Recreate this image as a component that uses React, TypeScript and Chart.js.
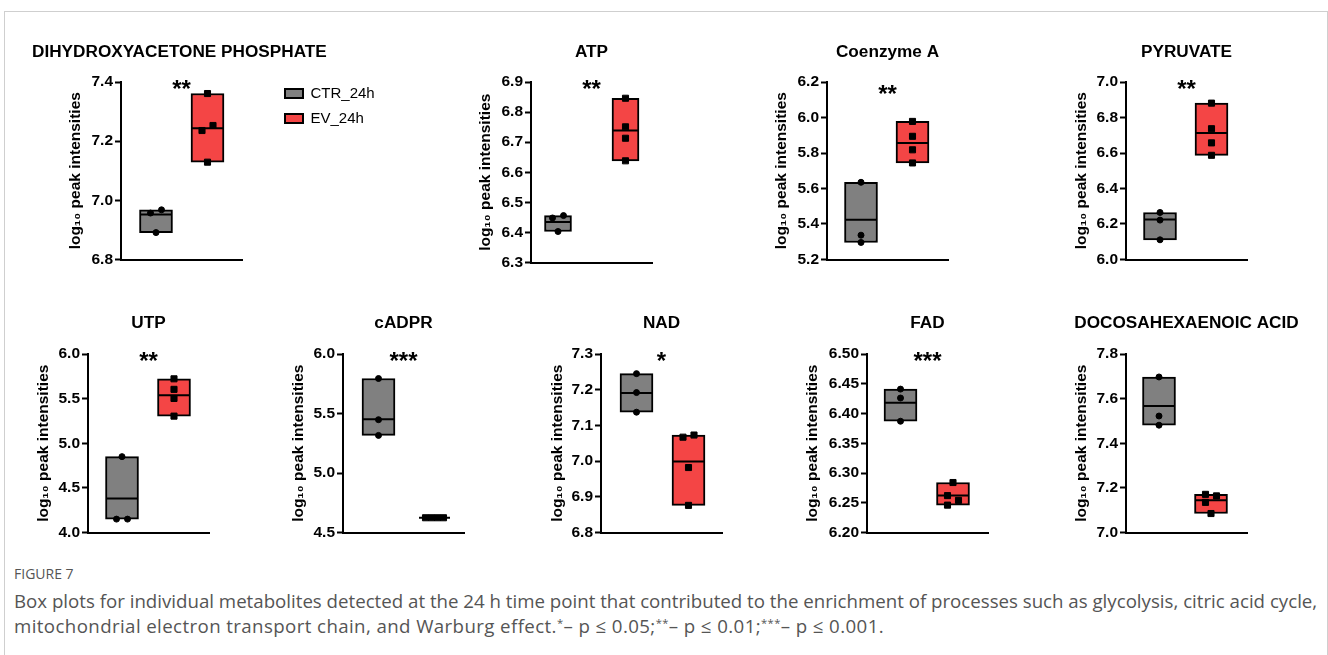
import React, { useEffect, useLayoutEffect, useRef, useState } from 'react';
import { Chart, registerables } from 'chart.js';

Chart.register(...registerables);

// ---------------- data ----------------
const METABOLITES = [
  'DIHYDROXYACETONE PHOSPHATE',
  'ATP',
  'Coenzyme A',
  'PYRUVATE',
  'UTP',
  'cADPR',
  'NAD',
  'FAD',
  'DOCOSAHEXAENOIC ACID',
];
const SIGNIFICANCE = ['**', '**', '**', '**', '**', '***', '*', '***', ''];
const GROUPS = ['CTR_24h', 'EV_24h'];

const CTR_POINTS = [
  [6.968, 6.957, 6.891],
  [6.456, 6.448, 6.403],
  [5.635, 5.337, 5.296],
  [6.265, 6.222, 6.111],
  [4.85, 4.15, 4.15],
  [5.794, 5.448, 5.316],
  [7.245, 7.192, 7.137],
  [6.441, 6.426, 6.387],
  [7.697, 7.522, 7.481],
];
const EV_POINTS = [
  [7.361, 7.253, 7.236, 7.129],
  [6.846, 6.751, 6.713, 6.638],
  [5.978, 5.894, 5.818, 5.744],
  [6.881, 6.737, 6.657, 6.587],
  [5.722, 5.604, 5.502, 5.304],
  [4.624, 4.624, 4.624, 4.624],
  [7.073, 7.067, 6.982, 6.876],
  [6.284, 6.262, 6.254, 6.246],
  [7.171, 7.164, 7.135, 7.085],
];
const CTR_CENTER = [6.952, 6.435, 5.424, 6.226, 4.381, 5.451, 7.191, 6.418, 7.567];
const EV_CENTER = [7.244, 6.739, 5.857, 6.713, 5.538, 4.624, 6.999, 6.262, 7.144];

const Y_MIN = [6.8, 6.3, 5.2, 6.0, 4.0, 4.5, 6.8, 6.2, 7.0];
const Y_MAX = [7.4, 6.9, 6.2, 7.0, 6.0, 6.0, 7.3, 6.5, 7.8];
const Y_STEP = [0.2, 0.1, 0.2, 0.2, 0.5, 0.5, 0.1, 0.05, 0.2];
const Y_DECIMALS = [1, 1, 1, 1, 1, 1, 1, 2, 1];
const Y_TITLE = 'log\u2081\u2080 peak intensities';

const CAPTION_LABEL = 'FIGURE 7';
const CAPTION_LINE_1 =
  'Box plots for individual metabolites detected at the 24 h time point that contributed to the enrichment of processes such as glycolysis, citric acid cycle,';
const CAPTION_LINE_2A = 'mitochondrial electron transport chain, and Warburg effect.';
const CAPTION_P = ['\u2013 p \u2264 0.05;', '\u2013 p \u2264 0.01;', '\u2013 p \u2264 0.001.'];

// ---------------- layout / style ----------------
const FONT = "'Liberation Sans', Arial, Helvetica, sans-serif";
const COLORS = ['#808080', '#F44545'];
const PLOT_W = 121;
const ROWS = [
  { top: 82, bottom: 263, title: 52 },
  { top: 354, bottom: 536, title: 323 },
];
type PanelLayout = {
  row: number;
  axisX: number;
  d: number;
  centers: [number, number];
  barT?: number;
  starsDy?: number;
  legend?: boolean;
  titleStart?: number;
};
const PANELS: PanelLayout[] = [
  { row: 0, axisX: 121, d: 45, centers: [35, 86.5], legend: true, titleStart: 32 },
  { row: 0, axisX: 531, d: 45, centers: [27, 94.5], barT: 27 },
  { row: 0, axisX: 827, d: 45, centers: [34, 85.5], starsDy: 5 },
  { row: 0, axisX: 1126, d: 44, centers: [34, 85.5] },
  { row: 1, axisX: 88, d: 44, centers: [34, 86] },
  { row: 1, axisX: 343, d: 44, centers: [35.5, 91.5] },
  { row: 1, axisX: 601, d: 43.5, centers: [35.5, 87.5] },
  { row: 1, axisX: 867, d: 54, centers: [33.5, 86] },
  { row: 1, axisX: 1126, d: 44, centers: [33, 85] },
];

// spread overlapping points horizontally (pixel offsets), like a small beeswarm
function swarmOffsets(values: number[], lo: number, hi: number, plotH: number): number[] {
  const pxPer = plotH / (hi - lo);
  const order = values.map((_, k) => k).sort((a, b) => values[a] - values[b]);
  const out = new Array(values.length).fill(0);
  let cluster: number[] = [];
  const flush = () => {
    const n = cluster.length;
    if (n > 1) {
      const span = (values[cluster[n - 1]] - values[cluster[0]]) * pxPer;
      cluster.forEach((k, j) => {
        out[k] = n > 2 && span < 7 ? (j - (n - 1) / 2) * 6 : j % 2 === 0 ? -5.5 : 5.5;
      });
    }
    cluster = [];
  };
  order.forEach((k, j) => {
    if (j > 0 && (values[k] - values[order[j - 1]]) * pxPer >= 7) flush();
    cluster.push(k);
  });
  flush();
  return out;
}

function Panel({ index }: { index: number }) {
  const ref = useRef<HTMLCanvasElement | null>(null);
  const p = PANELS[index];
  const row = ROWS[p.row];
  const W = p.legend ? p.axisX - (p.titleStart as number) : 70;
  const rightW = p.legend ? 33 : 70;
  const legendW = p.legend ? 104 : 0;
  const canvasLeft = p.axisX - W;
  const canvasTop = Math.round(row.title - 10.2);
  const width = W + PLOT_W + rightW + legendW;
  const height = row.bottom + 14 - canvasTop;

  useEffect(() => {
    const titleSize = 17.2;
    const titleLH = titleSize * 1.2;
    const subSize = 24;
    const subLH = subSize * 1.2;
    const subTop = canvasTop + titleLH;
    const starsMid = row.top + 8 + (p.starsDy || 0);
    const subPadTop = starsMid - subLH / 2 - subTop;
    const subPadBottom = row.top - subTop - subPadTop - subLH;
    const yTitlePad = p.axisX - p.d - canvasLeft - 9.3;
    const [c0, c1] = p.centers;
    const xMin = 1 - c0 / (c1 - c0);
    const xMax = xMin + PLOT_W / (c1 - c0);
    const unitPerPx = (xMax - xMin) / PLOT_W;
    const barT = p.barT || 33;
    const plotH = row.bottom - row.top;

    const groupPts = [CTR_POINTS[index], EV_POINTS[index]];
    const centers = [CTR_CENTER[index], EV_CENTER[index]];

    const bars = groupPts.map((pts, g) => ({
      type: 'bar' as const,
      label: GROUPS[g],
      data: [{ x: g + 1, y: [Math.min(...pts), Math.max(...pts)] }],
      backgroundColor: COLORS[g],
      borderColor: '#000',
      borderWidth: 2,
      borderSkipped: false,
      barThickness: barT,
      grouped: false,
      order: 3,
    }));
    const points = groupPts.map((pts, g) => {
      const off = swarmOffsets(pts, Y_MIN[index], Y_MAX[index], plotH);
      return {
        type: 'scatter' as const,
        label: GROUPS[g] + ' samples',
        data: pts.map((v, k) => ({ x: g + 1 + off[k] * unitPerPx, y: v })),
        pointStyle: g === 0 ? 'circle' : 'rect',
        pointRadius: g === 0 ? 3 : 4.3,
        pointBackgroundColor: '#000',
        pointBorderColor: '#000',
        pointBorderWidth: 1,
        order: 1,
      };
    });
    const mids = centers.map((c, g) => ({
      type: 'scatter' as const,
      label: GROUPS[g] + ' centre',
      data: [{ x: g + 1, y: c }],
      pointStyle: 'line',
      pointRadius: barT / 2 - 1,
      pointBorderColor: '#000',
      pointBackgroundColor: '#000',
      pointBorderWidth: 2,
      order: 2,
    }));

    const chart = new Chart(ref.current as HTMLCanvasElement, {
      type: 'bar',
      data: { datasets: [...bars, ...points, ...mids] as any },
      options: {
        responsive: false,
        animation: false,
        devicePixelRatio: 1,
        events: [],
        layout: { padding: 0 },
        scales: {
          x: {
            type: 'linear',
            min: xMin,
            max: xMax,
            offset: false,
            ticks: { display: false },
            grid: { display: false },
            border: { display: true, color: '#000', width: 2 },
            afterFit: (s: any) => {
              s.height = 14;
            },
          },
          y: {
            type: 'linear',
            position: 'left',
            min: Y_MIN[index],
            max: Y_MAX[index],
            ticks: {
              stepSize: Y_STEP[index],
              autoSkip: false,
              color: '#000',
              padding: 2,
              font: { family: FONT, size: 15.5, weight: 'bold' },
              callback: (v: any) => Number(v).toFixed(Y_DECIMALS[index]),
            },
            grid: {
              display: true,
              drawOnChartArea: false,
              drawTicks: true,
              tickLength: 6,
              tickWidth: 2,
              tickColor: '#000',
            },
            border: { display: true, color: '#000', width: 2 },
            title: {
              display: true,
              text: Y_TITLE,
              color: '#000',
              font: { family: FONT, size: 15.5, weight: 'bold' },
              padding: { top: yTitlePad, bottom: 0 },
            },
            afterFit: (s: any) => {
              s.width = W;
            },
          },
          yR: {
            type: 'linear',
            position: 'right',
            display: true,
            ticks: { display: false },
            grid: { display: false },
            border: { display: false },
            afterFit: (s: any) => {
              s.width = rightW;
            },
          },
        } as any,
        plugins: {
          legend: p.legend
            ? {
                display: true,
                position: 'right',
                align: 'start',
                fullSize: false,
                maxWidth: legendW,
                title: { display: true, text: ' ', font: { size: 1 }, padding: { top: 0, bottom: -7.2 } },
                labels: {
                  boxWidth: 18,
                  boxHeight: 9,
                  padding: 10,
                  color: '#000',
                  font: { family: FONT, size: 15 },
                  filter: (item: any) => item.datasetIndex < 2,
                },
              }
            : { display: false },
          title: {
            display: true,
            text: METABOLITES[index],
            align: p.legend ? 'start' : 'center',
            fullSize: true,
            color: '#000',
            font: { family: FONT, size: titleSize, weight: 'bold', lineHeight: 1.2 },
            padding: { top: 0, bottom: 0 },
          },
          subtitle: {
            display: true,
            text: SIGNIFICANCE[index],
            fullSize: false,
            color: '#000',
            font: { family: FONT, size: subSize, weight: 'bold', lineHeight: 1.2 },
            padding: { top: subPadTop, bottom: subPadBottom },
          },
          tooltip: { enabled: false },
        } as any,
      },
    });
    return () => chart.destroy();
  }, [index]);

  return (
    <canvas
      ref={ref}
      width={width}
      height={height}
      style={{ position: 'absolute', left: canvasLeft, top: canvasTop, width, height }}
    />
  );
}

const CAPTION_FONT = "'Open Sans', 'Noto Sans', sans-serif";

function fitFontSize(text: string, target: number, family: string): number {
  try {
    const c = document.createElement('canvas').getContext('2d');
    if (!c) return 16;
    c.font = `400 16px ${family}`;
    const w = c.measureText(text).width;
    return w > 0 ? (16 * target) / w : 16;
  } catch (e) {
    return 16;
  }
}

export default function App() {
  const [capSize] = useState(() => fitFontSize(CAPTION_LINE_1, 1304, CAPTION_FONT));
  const line2Ref = useRef<HTMLSpanElement | null>(null);
  const [line2Spacing, setLine2Spacing] = useState(0);
  useLayoutEffect(() => {
    const el = line2Ref.current;
    if (!el) return;
    const w = el.getBoundingClientRect().width;
    const n = (el.textContent || '').length;
    if (w > 0 && n > 1) setLine2Spacing((870 - w) / n);
  }, []);
  const supStyle: React.CSSProperties = { fontSize: '0.6em', verticalAlign: '0.55em', lineHeight: 0 };
  return (
    <div
      style={{
        position: 'fixed',
        left: 0,
        top: 0,
        width: 1328,
        height: 655,
        overflow: 'hidden',
        background: '#fff',
      }}
    >
      <div
        style={{
          position: 'absolute',
          left: 4,
          top: 11,
          width: 1324,
          height: 700,
          border: '1px solid #cfcfcf',
          boxSizing: 'border-box',
        }}
      />
      {METABOLITES.map((_, i) => (
        <Panel key={i} index={i} />
      ))}
      <div
        style={{
          position: 'absolute',
          left: 14,
          top: 566,
          fontFamily: CAPTION_FONT,
          fontSize: 14,
          lineHeight: '16px',
          color: '#555',
          whiteSpace: 'nowrap',
        }}
      >
        {CAPTION_LABEL}
      </div>
      <div
        style={{
          position: 'absolute',
          left: 14,
          top: 588,
          fontFamily: CAPTION_FONT,
          fontSize: capSize,
          lineHeight: '25px',
          color: '#555',
          whiteSpace: 'nowrap',
        }}
      >
        <span>{CAPTION_LINE_1}</span>
        <br />
        <span ref={line2Ref} style={{ letterSpacing: line2Spacing }}>
          {CAPTION_LINE_2A}
          <sup style={supStyle}>*</sup>
          {CAPTION_P[0]}
          <sup style={supStyle}>**</sup>
          {CAPTION_P[1]}
          <sup style={supStyle}>***</sup>
          {CAPTION_P[2]}
        </span>
      </div>
    </div>
  );
}
